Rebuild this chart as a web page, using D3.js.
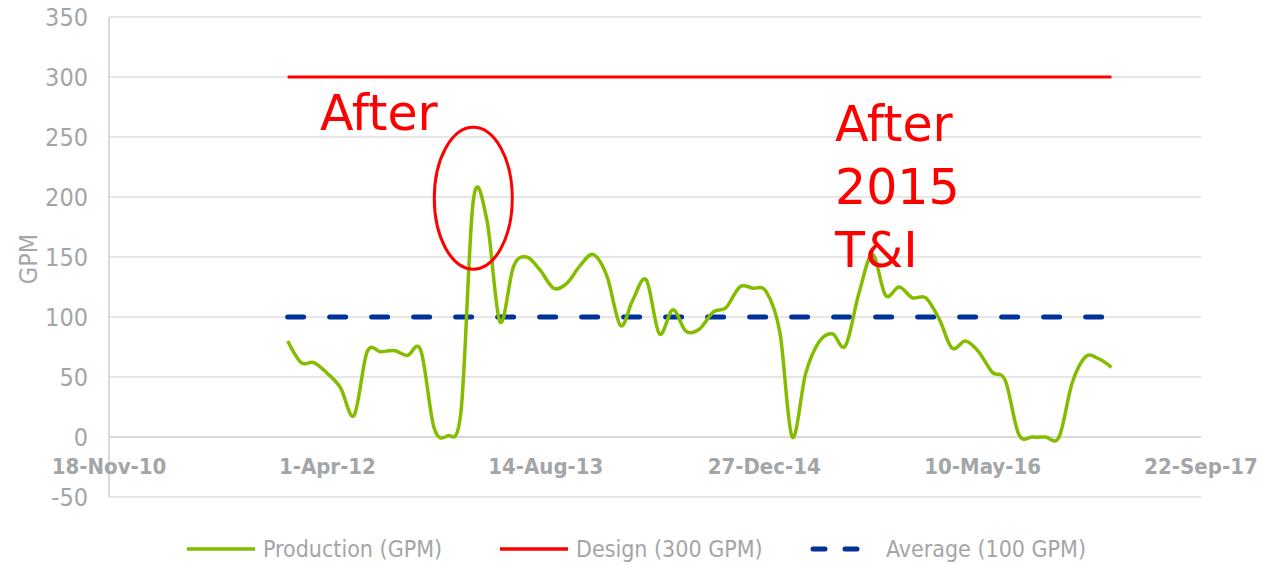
<!DOCTYPE html>
<html>
<head>
<meta charset="utf-8">
<script src="https://cdn.jsdelivr.net/npm/d3@7"></script>
<style>
  body { margin: 0; background: #fff; }
  text { font-family: "DejaVu Sans Condensed", "DejaVu Sans", sans-serif; font-stretch: condensed; }
  .tick-y { fill: #a3a6a9; font-size: 25px; }
  .tick-x { fill: #a3a6a9; font-size: 22px; font-weight: bold; }
  .legend-label { fill: #a3a6a9; font-size: 23px; }
  .note { fill: #ff0000; font-family: "DejaVu Sans", sans-serif; font-stretch: normal; font-size: 49px; }
</style>
</head>
<body>
<svg id="chart" width="1263" height="565"></svg>
<script>
// production, GPM, one reading per month starting Jan 2012
var production = [80, 62, 62, 53, 41, 18, 71, 71, 72, 68, 72, 8, 1, 22, 197, 181, 96, 142, 150, 139,
    124, 128, 143, 152, 134, 93, 114, 131, 86, 106, 88, 90, 104, 108, 125, 124, 121, 87, 0, 53,
    79, 86, 76, 120, 152, 118, 125, 116, 116, 98, 74, 80, 71, 54, 47, 2, 0, 0, 0, 45,
    67, 65, 58];
var firstMonth = '2012-01-01';
var designGPM = 300;
var averageGPM = 100;
var yTicks = [-50, 0, 50, 100, 150, 200, 250, 300, 350];
var xTicks = ['2010-11-18', '2012-04-01', '2013-08-14', '2014-12-27', '2016-05-10', '2017-09-22'];
var legendNames = ['Production (GPM)', 'Design (300 GPM)', 'Average (100 GPM)'];
var peakIndex = 14;

var parse = d3.timeParse('%Y-%m-%d');
var fmt = d3.timeFormat('%-d-%b-%y');
var months = production.map(function (d, i) { return d3.timeMonth.offset(parse(firstMonth), i); });

var svg = d3.select('#chart');
var plot = { l: 109, r: 1201, t: 17, b: 497 };

var x = d3.scaleTime()
    .domain([parse(xTicks[0]), parse(xTicks[xTicks.length - 1])])
    .range([plot.l, plot.r]);
var y = d3.scaleLinear()
    .domain([yTicks[0], yTicks[yTicks.length - 1]])
    .range([plot.b, plot.t]);

// gridlines
svg.append('g')
    .selectAll('line')
    .data(yTicks)
    .enter()
    .append('line')
    .attr('x1', plot.l)
    .attr('x2', plot.r)
    .attr('y1', function (d) { return y(d); })
    .attr('y2', function (d) { return y(d); })
    .style('stroke', function (d) { return d === 0 ? '#d9d9d9' : '#e6e6e6'; })
    .style('stroke-width', 2);

svg.append('line')
    .attr('x1', plot.l).attr('x2', plot.l)
    .attr('y1', plot.t).attr('y2', plot.b)
    .style('stroke', '#d9d9d9')
    .style('stroke-width', 2);

// y tick labels
svg.append('g')
    .selectAll('text')
    .data(yTicks)
    .enter()
    .append('text')
    .attr('class', 'tick-y')
    .attr('x', plot.l - 21)
    .attr('y', function (d) { return y(d); })
    .attr('dy', '0.36em')
    .style('text-anchor', 'end')
    .text(function (d) { return d; });

// x tick labels, sitting under the zero line
svg.append('g')
    .selectAll('text')
    .data(xTicks)
    .enter()
    .append('text')
    .attr('class', 'tick-x')
    .attr('x', function (d) { return x(parse(d)); })
    .attr('y', y(0) + 37)
    .style('text-anchor', 'middle')
    .text(function (d) { return fmt(parse(d)); });

svg.append('text')
    .attr('class', 'tick-y')
    .attr('transform', 'translate(' + [37, y(150) + 2] + ') rotate(-90)')
    .style('text-anchor', 'middle')
    .text('GPM');

var first = months[0], last = months[months.length - 1];

svg.append('line')
    .attr('x1', x(first)).attr('x2', x(last))
    .attr('y1', y(designGPM)).attr('y2', y(designGPM))
    .style('stroke', '#ff0000')
    .style('stroke-width', 3);

svg.append('line')
    .attr('x1', x(first)).attr('x2', x(last))
    .attr('y1', y(averageGPM)).attr('y2', y(averageGPM))
    .style('stroke', '#003399')
    .style('stroke-width', 5)
    .style('stroke-linecap', 'round')
    .style('stroke-dasharray', '16,26');

var line = d3.line()
    .x(function (d, i) { return x(months[i]); })
    .y(function (d) { return y(d); })
    .curve(d3.curveCardinal.tension(0));

svg.append('path')
    .datum(production)
    .attr('d', line)
    .style('fill', 'none')
    .style('stroke', '#84bd00')
    .style('stroke-width', 3.5)
    .style('stroke-linejoin', 'round');

// annotations
svg.append('ellipse')
    .attr('cx', x(months[peakIndex]))
    .attr('cy', y(199))
    .attr('rx', 39)
    .attr('ry', 71)
    .style('fill', 'none')
    .style('stroke', '#ff0000')
    .style('stroke-width', 3);

svg.append('text')
    .attr('class', 'note')
    .attr('x', 320)
    .attr('y', 130)
    .text('After');

['After', '2015', 'T&I'].forEach(function (t, i) {
    svg.append('text')
        .attr('class', 'note')
        .attr('x', 835)
        .attr('y', 141 + i * 63)
        .text(t);
});

// legend
var legendX = [187, 500, 810];
var legendY = 549;
var legendStyles = [
    { c: '#84bd00', w: 3.5, dash: null, cap: 'butt' },
    { c: '#ff0000', w: 3.5, dash: null, cap: 'butt' },
    { c: '#003399', w: 5, dash: '12,20', cap: 'round' }
];

legendNames.forEach(function (name, i) {
    var g = svg.append('g')
        .attr('transform', 'translate(' + [legendX[i], legendY] + ')');
    g.append('line')
        .attr('x1', legendStyles[i].cap === 'round' ? 3 : 0)
        .attr('x2', legendStyles[i].cap === 'round' ? 65 : 68)
        .style('stroke', legendStyles[i].c)
        .style('stroke-width', legendStyles[i].w)
        .style('stroke-linecap', legendStyles[i].cap)
        .style('stroke-dasharray', legendStyles[i].dash);
    g.append('text')
        .attr('class', 'legend-label')
        .attr('x', 76)
        .attr('dy', '0.36em')
        .text(name);
});
</script>
</body>
</html>
